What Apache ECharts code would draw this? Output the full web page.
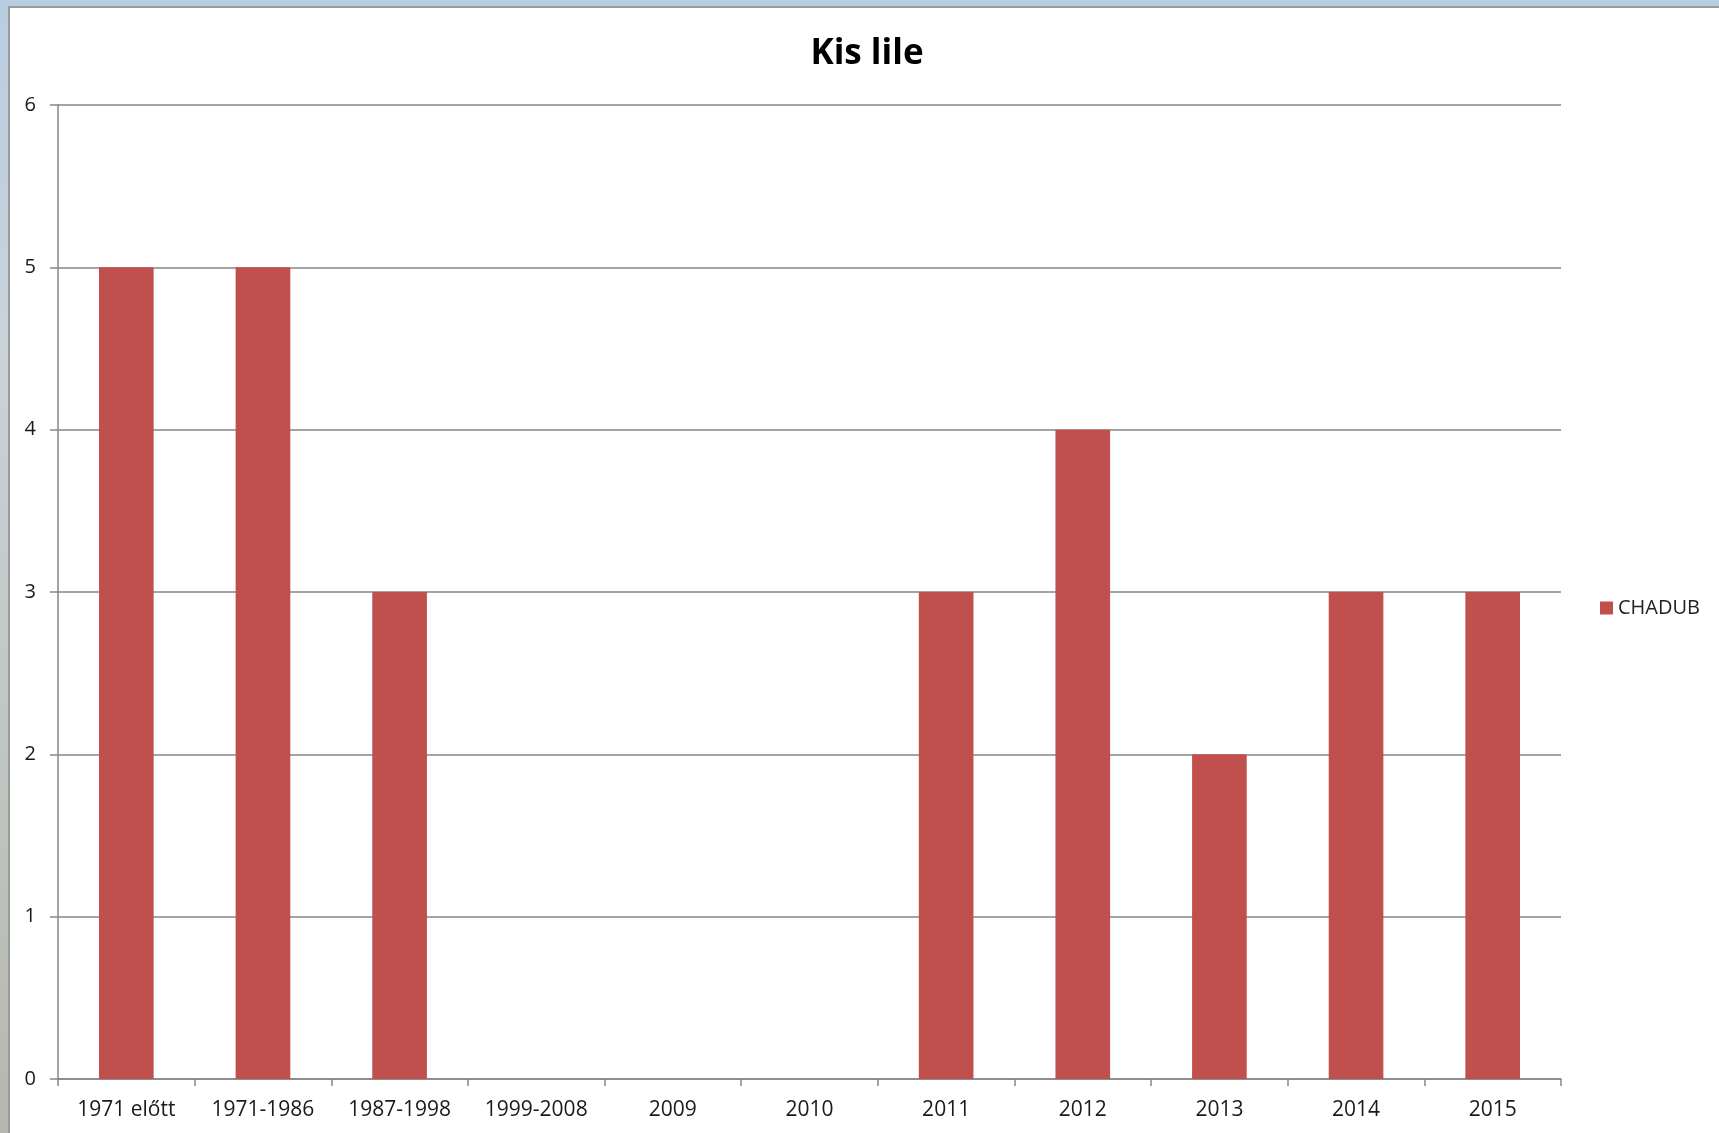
<!DOCTYPE html>
<html>
<head>
<meta charset="utf-8">
<script src="https://cdn.jsdelivr.net/npm/echarts@6/dist/echarts.min.js"></script>
<style>
  html, body { margin: 0; padding: 0; width: 1719px; height: 1133px; overflow: hidden;
    background: linear-gradient(180deg, #b9cde2 0%, #c9d3da 30%, #bfc4bf 70%, #b5b8b0 100%); }
  #frame { position: absolute; left: 8px; top: 6px; width: 1711px; height: 1127px;
    background: #ffffff; border-left: 2px solid #9a9a9a; border-top: 2px solid #9a9a9a; box-sizing: border-box; }
  #chart { position: absolute; left: 0; top: 0; width: 1719px; height: 1133px; }
</style>
</head>
<body>
<div id="frame"></div>
<div id="chart"></div>
<script>
const categories = ['1971 előtt', '1971-1986', '1987-1998', '1999-2008', '2009', '2010', '2011', '2012', '2013', '2014', '2015'];
const seriesName = 'CHADUB';
const values = [5, 5, 3, 0, 0, 0, 3, 4, 2, 3, 3];
const titleText = 'Kis lile';

const chart = echarts.init(document.getElementById('chart'), null, { renderer: 'canvas' });
const font = '"Open Sans", "DejaVu Sans", sans-serif';
chart.setOption({
  backgroundColor: 'transparent',
  animation: false,
  title: {
    text: titleText,
    left: 862, top: 32, textAlign: 'center',
    textStyle: { fontFamily: font, fontSize: 35, fontWeight: 'bold', color: '#000000' }
  },
  legend: {
    data: [seriesName],
    left: 1600, top: 598,
    padding: 0,
    orient: 'vertical',
    icon: 'rect', itemWidth: 13, itemHeight: 13, itemGap: 5,
    textStyle: { fontFamily: font, fontSize: 20, color: '#222222' }
  },
  grid: { left: 58, right: 158, top: 105, bottom: 54, containLabel: false },
  xAxis: {
    type: 'category',
    data: categories,
    axisLine: { lineStyle: { color: '#868686', width: 1.5 } },
    axisTick: { show: true, alignWithLabel: false, length: 7, lineStyle: { color: '#868686', width: 1.5 } },
    axisLabel: { fontFamily: font, fontSize: 21, color: '#1a1a1a', margin: 21, interval: 0 },
    splitLine: { show: false }
  },
  yAxis: {
    type: 'value',
    min: 0, max: 6, interval: 1,
    axisLine: { show: true, lineStyle: { color: '#868686', width: 1.5 } },
    axisTick: { show: true, length: 8, lineStyle: { color: '#868686', width: 1.5 } },
    axisLabel: { fontFamily: font, fontSize: 20, color: '#1a1a1a', margin: 22 },
    splitLine: { show: true, lineStyle: { color: '#868686', width: 1.5 } }
  },
  series: [{
    name: seriesName,
    type: 'bar',
    data: values,
    barWidth: '40%',
    itemStyle: { color: '#C0504D' }
  }]
});
</script>
</body>
</html>
